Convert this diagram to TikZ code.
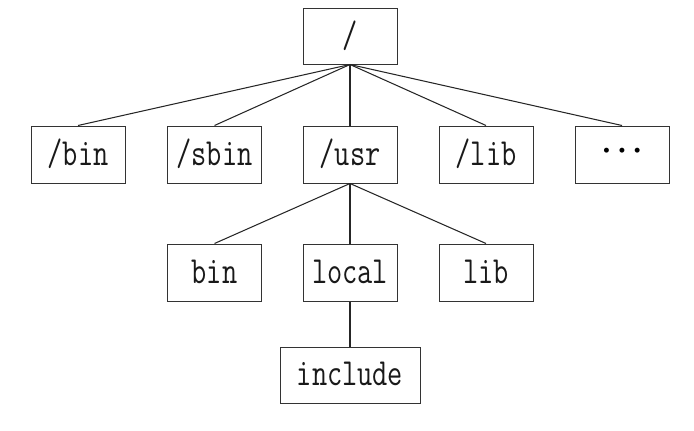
\documentclass[tikz,border=0pt]{standalone}
\newcommand{\stretchtxt}[1]{\scalebox{1}[1.3]{#1}}
\begin{document}
\begin{tikzpicture}[x=1pt,y=-1pt,
  box/.style={draw=black!80,line width=1pt,minimum width=94pt,minimum height=57pt,inner sep=0pt,
    font=\fontsize{29.5}{30}\ttfamily},
  wide/.style={box,minimum width=140pt,minimum height=56pt},
  link/.style={draw=black!85,line width=1.05pt},
  lbl/.style={anchor=base,inner sep=0pt,text=black!90,font=\fontsize{29.5}{30}\ttfamily}]
\useasboundingbox (0,0) rectangle (694,431);
\node[box,minimum height=56pt] (root) at (350,36) {};
\node[box] (bin) at (78,154.5) {};
\node[box] (sbin) at (214.5,154.5) {};
\node[box] (usr) at (350,154.5) {};
\node[box] (lib) at (486,154.5) {};
\node[box] (more) at (622,154.5) {};
\node[box] (ubin) at (214.5,272.5) {};
\node[box] (local) at (350,272.5) {};
\node[box] (ulib) at (486,272.5) {};
\node[wide] (include) at (350,375) {};
\node[lbl] (troot) at ([yshift=-11pt]root.center) {\stretchtxt{/}};
\node[lbl] (tbin) at ([yshift=-11pt]bin.center) {\stretchtxt{/bin}};
\node[lbl] (tsbin) at ([yshift=-11pt]sbin.center) {\stretchtxt{/sbin}};
\node[lbl] (tusr) at ([yshift=-11pt]usr.center) {\stretchtxt{/usr}};
\node[lbl] (tlib) at ([yshift=-11pt]lib.center) {\stretchtxt{/lib}};
\node[lbl,anchor=center,text=black,font=\fontsize{22}{22}\rmfamily] (tmore) at ([yshift=2.5pt]more.center) {\textbullet\kern-0.5pt\textbullet\kern-0.5pt\textbullet};
\node[lbl] (tubin) at ([yshift=-11pt]ubin.center) {\stretchtxt{bin}};
\node[lbl] (tlocal) at ([yshift=-11pt]local.center) {\stretchtxt{local}};
\node[lbl] (tulib) at ([yshift=-11pt]ulib.center) {\stretchtxt{lib}};
\node[lbl] (tinclude) at ([yshift=-10pt]include.center) {\stretchtxt{include}};
\foreach \c in {bin,sbin,usr,lib,more} \draw[link] (root.south) -- (\c.north);
\foreach \c in {ubin,local,ulib} \draw[link] (usr.south) -- (\c.north);
\draw[link] (local.south) -- (include.north);
\end{tikzpicture}
\end{document}
